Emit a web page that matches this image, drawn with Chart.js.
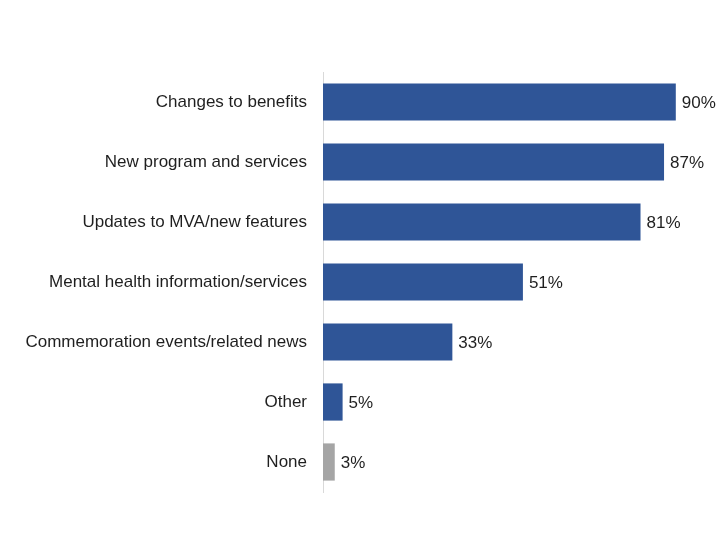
<!DOCTYPE html>
<html>
<head>
<meta charset="utf-8">
<script src="https://cdn.jsdelivr.net/npm/chart.js@4.4.1/dist/chart.umd.min.js"></script>
<style>
html,body{margin:0;padding:0;background:#fff;}
#wrap{width:720px;height:540px;}
</style>
</head>
<body>
<div id="wrap"><canvas id="c" width="720" height="540"></canvas></div>
<script>
const categories = ["Changes to benefits","New program and services","Updates to MVA/new features","Mental health information/services","Commemoration events/related news","Other","None"];
const values = [90, 87, 81, 51, 33, 5, 3];
const barColors = ["#2F5597","#2F5597","#2F5597","#2F5597","#2F5597","#2F5597","#A5A5A5"];
const FONT = "'Liberation Sans', Arial, sans-serif";

const valueLabels = {
  id: 'valueLabels',
  afterDatasetsDraw(chart) {
    const ctx = chart.ctx;
    const meta = chart.getDatasetMeta(0);
    ctx.save();
    ctx.font = "17px " + FONT;
    ctx.fillStyle = "#1F1F1F";
    ctx.textAlign = "left";
    ctx.textBaseline = "middle";
    meta.data.forEach((bar, i) => {
      ctx.fillText(values[i] + "%", bar.x + 6, bar.y + 1);
    });
    ctx.restore();
  }
};

new Chart(document.getElementById('c'), {
  type: 'bar',
  data: {
    labels: categories,
    datasets: [{
      data: values,
      backgroundColor: barColors,
      barPercentage: 0.62,
      categoryPercentage: 1.0
    }]
  },
  options: {
    indexAxis: 'y',
    responsive: false,
    animation: false,
    layout: { padding: { top: 72, bottom: 48, left: 0, right: 5 } },
    plugins: { legend: { display: false }, tooltip: { enabled: false } },
    scales: {
      x: { display: false, min: 0, max: 100 },
      y: {
        afterFit(scale) { scale.width = 323; },
        grid: { display: false, drawTicks: false },
        border: { display: true, color: '#D9D9D9', width: 1 },
        ticks: { padding: 16, color: '#1F1F1F', font: { family: FONT, size: 17 } }
      }
    }
  },
  plugins: [valueLabels]
});
</script>
</body>
</html>
